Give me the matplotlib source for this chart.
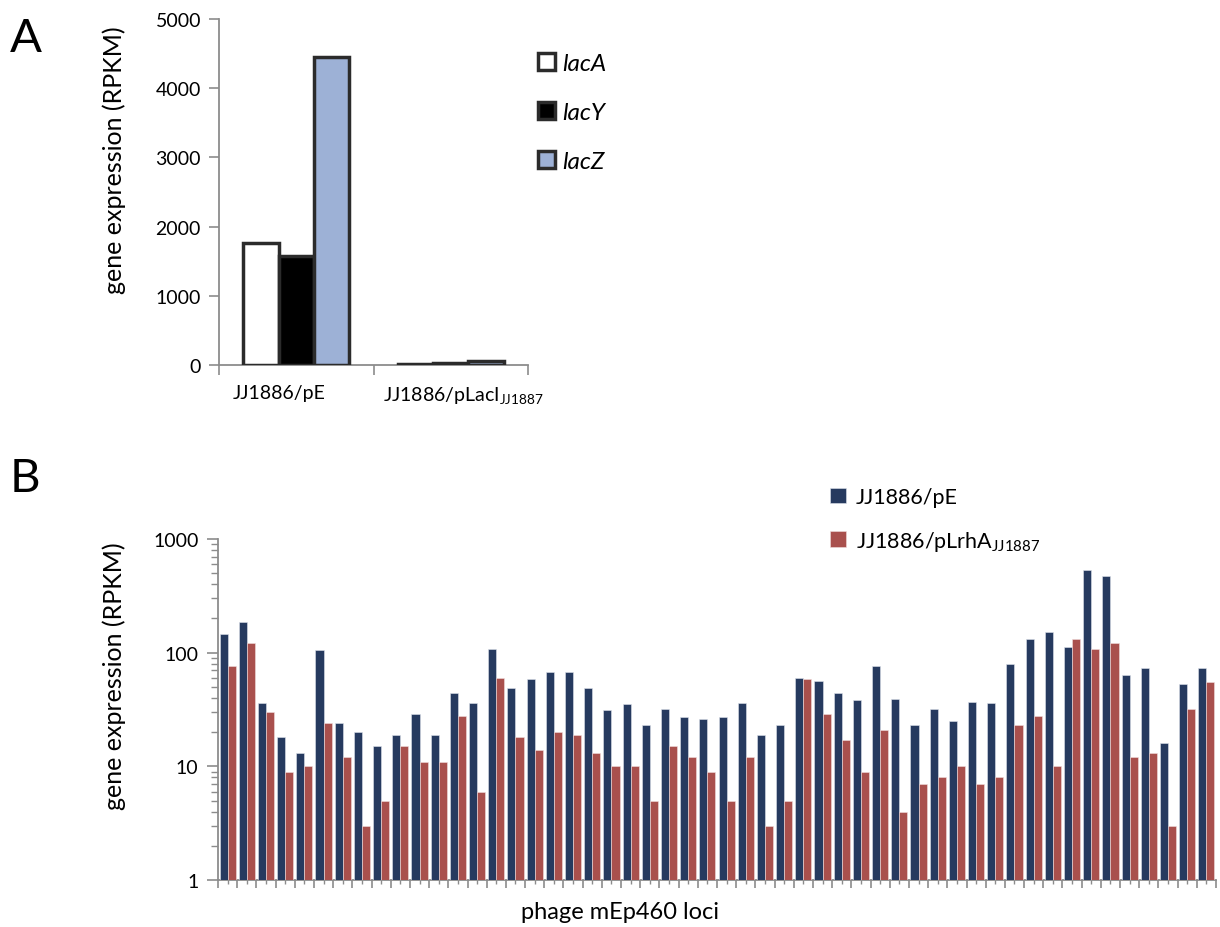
import numpy as np
import matplotlib.pyplot as plt
from matplotlib.ticker import FixedLocator, NullFormatter, LogLocator
from matplotlib.font_manager import FontProperties

plt.rcParams['font.family'] = ['Lato', 'DejaVu Sans']
plt.rcParams['mathtext.default'] = 'regular'

# ── data: panel A ─────────────────────────────────────────────────────────────
strains_a = ["JJ1886/pE", "JJ1886/pLacI$_{JJ1887}$"]
genes = ["lacA", "lacY", "lacZ"]
lacA = [1770, 20]
lacY = [1570, 30]
lacZ = [4450, 60]

# ── data: panel B (52 loci of phage mEp460) ───────────────────────────────────
series_b = ["JJ1886/pE", "JJ1886/pLrhA$_{JJ1887}$"]
pE = [145, 185, 36, 18, 13, 105, 24, 20, 15, 19, 29, 19, 44, 36, 107, 49, 59,
      67, 67, 49, 31, 35, 23, 32, 27, 26, 27, 36, 19, 23, 60, 56, 44, 38, 77,
      39, 23, 32, 25, 37, 36, 79, 132, 151, 113, 535, 469, 63, 73, 16, 53, 74]
pLrhA = [77, 121, 30, 9, 10, 24, 12, 3, 5, 15, 11, 11, 28, 6, 60, 18, 14,
         20, 19, 13, 10, 10, 5, 15, 12, 9, 5, 12, 3, 5, 59, 29, 17, 9, 21,
         4, 7, 8, 10, 7, 8, 23, 28, 10, 133, 108, 121, 12, 13, 3, 32, 55]

AXIS = "#8c8c8c"
W, H = 1220, 928
fig = plt.figure(figsize=(W / 100, H / 100), dpi=100)

def frac(x0, y0, x1, y1):
    return [x0 / W, 1 - y1 / H, (x1 - x0) / W, (y1 - y0) / H]

def style_axes(ax):
    for s in ("top", "right"):
        ax.spines[s].set_visible(False)
    for s in ("left", "bottom"):
        ax.spines[s].set_color(AXIS)
        ax.spines[s].set_linewidth(1.3)
    ax.tick_params(colors=AXIS, labelcolor="black", labelsize=14, width=1.2)

# ── panel A ───────────────────────────────────────────────────────────────────
axA = fig.add_axes(frac(219, 20, 528, 366))
style_axes(axA)
x = np.arange(len(strains_a)) + 0.5
bw = 0.229
colors_a = ["white", "black", "#9db1d6"]
for i, (vals, c) in enumerate(zip([lacA, lacY, lacZ], colors_a)):
    axA.bar(x + (i - 1) * bw, vals, bw, color=c, edgecolor="#2b2b2b",
            linewidth=2.5, label=genes[i], zorder=3)
axA.set_xlim(0, 2)
axA.set_ylim(0, 5000)
axA.set_yticks([0, 1000, 2000, 3000, 4000, 5000])
axA.xaxis.set_major_locator(FixedLocator([0, 1, 2]))
axA.xaxis.set_major_formatter(NullFormatter())
axA.xaxis.set_minor_locator(FixedLocator([0.387, 1.58]))
axA.set_xticklabels(strains_a, minor=True)
axA.tick_params(axis="x", which="minor", length=0, pad=14, labelsize=14)
axA.tick_params(axis="x", which="major", length=7, direction="out")
axA.tick_params(axis="y", length=7, pad=6)
axA.set_ylabel("gene expression (RPKM)", fontsize=18)
axA.yaxis.set_label_coords((126 - 219) / 309, (366 - 160) / 346)
axA.legend(loc="upper left", bbox_to_anchor=(538 / W, 1 - 54 / H),
           bbox_transform=fig.transFigure, frameon=False, borderpad=0,
           borderaxespad=0, handlelength=0.7, handleheight=0.7,
           handletextpad=0.3, labelspacing=1.15,
           prop=FontProperties(family="Lato", style="italic", size=17.5))
fig.text(10, H - 18, "A", fontsize=34, va="top", ha="left",
         transform=None)

# ── panel B ───────────────────────────────────────────────────────────────────
axB = fig.add_axes(frac(218, 540, 1216, 881))
style_axes(axB)
n = len(pE)
xb = np.arange(n) + 0.5
bwb = 0.42
axB.bar(xb - bwb / 2, pE, bwb, color="#263a5f", edgecolor="#dfe3ec",
        linewidth=0.4, label=series_b[0], zorder=3)
axB.bar(xb + bwb / 2, pLrhA, bwb, color="#a9504d", edgecolor="#f0dede",
        linewidth=0.4, label=series_b[1], zorder=3)
axB.set_yscale("log")
axB.set_ylim(1, 1000)
axB.set_xlim(0, n)
axB.set_yticks([1, 10, 100, 1000])
axB.set_yticklabels(["1", "10", "100", "1000"])
axB.yaxis.set_minor_locator(LogLocator(base=10, subs=np.arange(2, 10)))
axB.yaxis.set_minor_formatter(NullFormatter())
axB.tick_params(axis="y", which="major", length=8, pad=6)
axB.tick_params(axis="y", which="minor", length=5, width=1.0, colors=AXIS)
axB.xaxis.set_major_locator(FixedLocator(np.arange(n + 1)))
axB.xaxis.set_major_formatter(NullFormatter())
axB.xaxis.set_minor_locator(FixedLocator(xb))
axB.xaxis.set_minor_formatter(NullFormatter())
axB.tick_params(axis="x", which="major", length=6)
axB.tick_params(axis="x", which="minor", length=3, width=1.0, colors=AXIS)
axB.set_ylabel("gene expression (RPKM)", fontsize=18)
axB.yaxis.set_label_coords((126 - 218) / 998, (881 - 676) / 341)
fig.text(620 / W, 1 - 913 / H, "phage mEp460 loci", fontsize=17,
         ha="center", va="center")
axB.legend(loc="upper left", bbox_to_anchor=(830 / W, 1 - 488 / H),
           bbox_transform=fig.transFigure, frameon=False, borderpad=0,
           borderaxespad=0, handlelength=0.75, handleheight=0.75,
           handletextpad=0.45, labelspacing=1.0, fontsize=15.5)
fig.text(10, H - 458, "B", fontsize=34, va="top", ha="left",
         transform=None)

fig.savefig("out.png", dpi=100)
